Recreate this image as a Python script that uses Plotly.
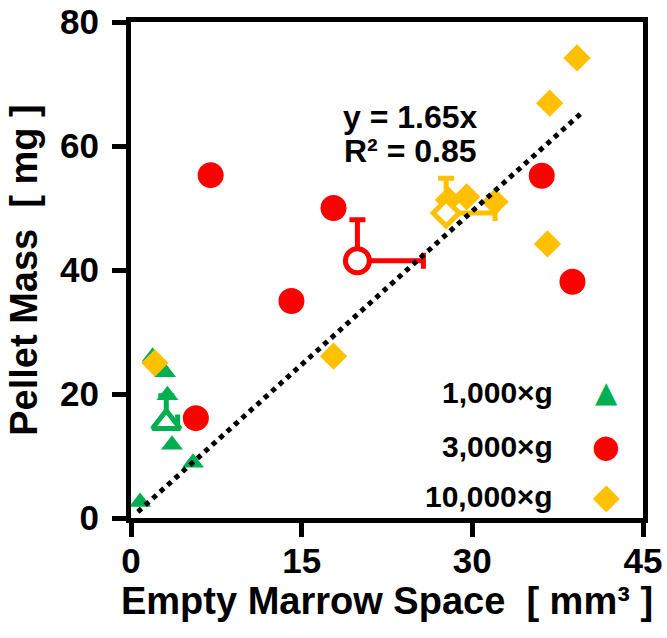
import plotly.graph_objects as go

# ---- data ----
g_x = [1.9, 3.0, 3.2, 3.6, 5.45, 0.8]
g_y = [26.0, 23.5, 19.8, 11.8, 8.9, 2.6]
r_x = [7.0, 14.1, 17.8, 5.7, 36.1, 38.8]
r_y = [55.3, 35.0, 50.0, 16.1, 55.2, 38.1]
d_x = [2.1, 17.8, 27.9, 29.5, 32.0, 36.6, 36.8, 39.2]
d_y = [25.0, 26.1, 51.3, 51.8, 51.0, 44.2, 66.9, 74.2]

mean_x = [3.1, 19.9, 27.7]
mean_y = [15.4, 41.5, 49.2]
err_x_plus = [1.0, 5.8, 4.3]
err_y_plus = [4.3, 6.6, 5.6]

slope = 1.65
trend_x = [0.6, 39.6]
trend_y = [slope * v for v in trend_x]

series_names = ["1,000×g", "3,000×g", "10,000×g"]
colors = ["#00b050", "#ff0000", "#ffc000"]
symbols = ["triangle-up", "circle", "diamond"]
x_ticks = [0, 15, 30, 45]
y_ticks = [0, 20, 40, 60, 80]

FONT = "Liberation Sans, Arial, sans-serif"

fig = go.Figure()

pts = [(g_x, g_y, 19), (r_x, r_y, 26), (d_x, d_y, 21)]
for (xs, ys, sz), c, s, n in zip(pts, colors, symbols, series_names):
    fig.add_trace(go.Scatter(x=xs, y=ys, mode="markers", name=n,
                             marker=dict(symbol=s, size=sz, color=c, line=dict(width=0)),
                             showlegend=False))

open_sizes = [24, 24, 20]
for i in range(3):
    fig.add_trace(go.Scatter(
        x=[mean_x[i]], y=[mean_y[i]], mode="markers", showlegend=False,
        marker=dict(symbol=symbols[i], size=open_sizes[i], color="white",
                    line=dict(color=colors[i], width=5)),
        error_x=dict(type="data", symmetric=False, array=[err_x_plus[i]], arrayminus=[0],
                     color=colors[i], thickness=5, width=8),
        error_y=dict(type="data", symmetric=False, array=[err_y_plus[i]], arrayminus=[0],
                     color=colors[i], thickness=5, width=8),
    ))

fig.add_trace(go.Scatter(x=trend_x, y=trend_y, mode="lines", showlegend=False,
                         line=dict(color="black", width=5, dash="dot")))

axis_common = dict(showline=True, linewidth=5, linecolor="black", mirror=True,
                   ticks="outside", ticklen=14, tickwidth=5, tickcolor="black",
                   showgrid=False, zeroline=False,
                   tickfont=dict(family=FONT, size=35, color="black", weight="bold"))

fig.update_xaxes(range=[0, 45], tickvals=x_ticks, ticktext=[str(v) for v in x_ticks],
                 ticklabelstandoff=-6,
                 title=dict(text="Empty Marrow Space\u00a0\u00a0[ mm³ ]", standoff=9,
                            font=dict(family=FONT, size=38, color="black", weight="bold")),
                 **axis_common)
fig.update_yaxes(range=[0, 80], tickvals=y_ticks, ticktext=[str(v) for v in y_ticks],
                 ticklabelstandoff=6,
                 title=dict(text="Pellet Mass\u00a0\u00a0[ mg ]", standoff=12,
                            font=dict(family=FONT, size=38, color="black", weight="bold")),
                 **axis_common)

annos = [
    dict(x=0.545, y=0.808, xref="paper", yref="paper", text="y = 1.65x", showarrow=False,
         font=dict(family=FONT, size=32, color="black", weight="bold"), xanchor="center", yanchor="middle"),
    dict(x=0.545, y=0.739, xref="paper", yref="paper", text="R² = 0.85", showarrow=False,
         font=dict(family=FONT, size=32, color="black", weight="bold"), xanchor="center", yanchor="middle"),
]
leg_y = [0.254, 0.145, 0.044]
glyphs = ["▲", "●", "◆"]
glyph_sizes = [29, 32, 35]
for i in range(3):
    annos.append(dict(x=0.828, y=leg_y[i], xref="paper", yref="paper", text=series_names[i],
                      showarrow=False, xanchor="right", yanchor="middle",
                      font=dict(family=FONT, size=30, color="black", weight="bold")))
    annos.append(dict(x=0.928, y=leg_y[i], xref="paper", yref="paper", text=glyphs[i],
                      showarrow=False, xanchor="center", yanchor="middle",
                      font=dict(family="DejaVu Sans", size=glyph_sizes[i], color=colors[i])))

fig.update_layout(width=667, height=638, margin=dict(l=131, r=24, t=22, b=120, autoexpand=False),
                  plot_bgcolor="white", paper_bgcolor="white", annotations=annos,
                  showlegend=False)

fig.write_html("out.html")
